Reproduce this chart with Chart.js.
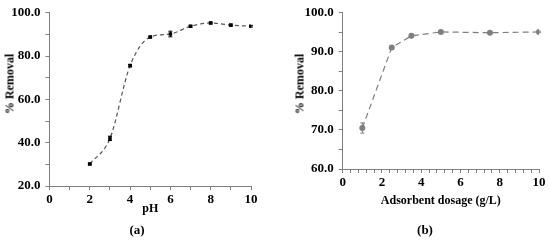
<!DOCTYPE html>
<html><head><meta charset="utf-8">
<script src="https://cdn.jsdelivr.net/npm/chart.js@4"></script>
<style>
html,body{margin:0;padding:0;background:#fff;}
#wrap{position:relative;width:550px;height:240px;overflow:hidden;}
canvas{position:absolute;top:0;}
.lab{position:absolute;font:bold 13px "Liberation Serif",serif;color:#000;transform:translate(-50%,-50%);white-space:nowrap;}
.ytitle{position:absolute;font:bold 12px "Liberation Serif",serif;color:#000;transform:translate(-50%,-50%) rotate(-90deg);white-space:nowrap;}
</style></head>
<body><div id="wrap">
<canvas id="c1" width="268" height="240" style="left:0;width:268px;height:240px"></canvas>
<canvas id="c2" width="275" height="240" style="left:275px;width:275px;height:240px"></canvas>
<div class="ytitle" style="left:10px;top:84px">% Removal</div>
<div class="ytitle" style="left:300px;top:84px">% Removal</div>
<div class="lab" style="left:137px;top:230px">(a)</div>
<div class="lab" style="left:425px;top:230px">(b)</div>
</div>
<script>
// Panel (a): effect of pH
const phValues = [2, 3, 4, 5, 6, 7, 8, 9, 10];
const phRemoval = [30.2, 42.0, 75.6, 88.8, 90.2, 93.8, 95.3, 94.3, 93.8];
const phError = [0.4, 1.0, 0.5, 0.4, 1.3, 0.4, 0.4, 0.4, 0.4];
// Panel (b): effect of adsorbent dosage
const dosageValues = [1, 2.5, 3.5, 5, 7.5, 10];
const dosageRemoval = [70.5, 91.1, 94.1, 95.1, 94.9, 95.1];
const dosageError = [1.3, 0.4, 0.3, 0.2, 0.2, 0.2];
// Axis tick labels
const phYTicks = [20, 40, 60, 80, 100];
const phXTicks = [0, 2, 4, 6, 8, 10];
const dosYTicks = [60, 70, 80, 90, 100];
const dosXTicks = [0, 2, 4, 6, 8, 10];

const FONT = "'Liberation Serif', 'Times New Roman', serif";
const AXIS = '#808080';

const errorBars = {
  id: 'errorBars',
  afterDatasetsDraw(chart) {
    const ctx = chart.ctx;
    const xs = chart.scales.x, ys = chart.scales.y;
    chart.data.datasets.forEach(ds => {
      if (!ds.errors) return;
      ctx.save();
      ctx.strokeStyle = ds.errColor;
      ctx.lineWidth = 1;
      ds.data.forEach((p, i) => {
        const e = ds.errors[i];
        const x = xs.getPixelForValue(p.x);
        const y1 = ys.getPixelForValue(p.y - e), y2 = ys.getPixelForValue(p.y + e);
        ctx.beginPath();
        ctx.moveTo(x, y1); ctx.lineTo(x, y2);
        ctx.moveTo(x - 2, y1); ctx.lineTo(x + 2, y1);
        ctx.moveTo(x - 2, y2); ctx.lineTo(x + 2, y2);
        ctx.stroke();
      });
      ctx.restore();
    });
  }
};

function hasTick(list, v) { return list.some(t => Math.abs(t - v) < 1e-6); }

function makeChart(id, opts) {
  return new Chart(document.getElementById(id), {
    type: 'line',
    data: { datasets: [{
      data: opts.xs.map((x, i) => ({ x: x, y: opts.ys[i] })),
      errors: opts.err,
      errColor: opts.pointColor,
      borderColor: opts.lineColor,
      borderWidth: 1.2,
      borderDash: opts.dash,
      pointStyle: opts.pointStyle,
      pointRadius: opts.pointRadius,
      pointBackgroundColor: opts.pointColor,
      pointBorderColor: opts.pointColor,
      pointBorderWidth: 0,
      fill: false,
      tension: opts.tension,
      cubicInterpolationMode: opts.cubic
    }]},
    options: {
      responsive: false,
      animation: false,
      events: [],
      layout: { padding: opts.padding },
      plugins: { legend: { display: false }, tooltip: { enabled: false } },
      scales: {
        x: {
          type: 'linear', min: 0, max: 10,
          afterFit: s => { s.height = opts.xAxisHeight; },
          border: { display: true, color: AXIS, width: 1 },
          grid: { display: true, drawOnChartArea: false, drawTicks: true, tickLength: 4, color: AXIS },
          ticks: {
            stepSize: opts.xStep, autoSkip: false, maxRotation: 0, padding: 2,
            color: '#000', font: { family: FONT, size: 13, weight: 'bold' },
            callback: v => hasTick(opts.xTicks, v) ? String(Math.round(v)) : ''
          },
          title: { display: true, text: opts.xTitle, color: '#000',
            font: { family: FONT, size: 12, weight: 'bold' }, padding: opts.xTitlePad }
        },
        y: {
          type: 'linear', min: opts.yMin, max: 100,
          afterFit: s => { s.width = opts.yAxisWidth; },
          border: { display: true, color: AXIS, width: 1 },
          grid: { display: true, drawOnChartArea: false, drawTicks: true, tickLength: 4, color: AXIS },
          ticks: {
            stepSize: opts.yStep, autoSkip: false, padding: 5,
            color: '#000', font: { family: FONT, size: 13, weight: 'bold' },
            callback: v => hasTick(opts.yTicks, v) ? v.toFixed(1) : ''
          },
          title: { display: false }
        }
      }
    },
    plugins: [errorBars]
  });
}

makeChart('c1', {
  xs: phValues, ys: phRemoval, err: phError,
  lineColor: '#555555', pointColor: '#000000', dash: [4, 3],
  pointStyle: 'rect', pointRadius: 2.5, tension: 0.4, cubic: 'monotone',
  padding: { top: 11, right: 17, left: 0, bottom: 0 },
  xAxisHeight: 54, yAxisWidth: 49.5, xStep: 1, yStep: 10, yMin: 20,
  xTicks: phXTicks, yTicks: phYTicks, xTitle: 'pH',
  xTitlePad: { top: 0, bottom: 24 }
});

makeChart('c2', {
  xs: dosageValues, ys: dosageRemoval, err: dosageError,
  lineColor: '#7f7f7f', pointColor: '#7f7f7f', dash: [6, 4],
  pointStyle: 'circle', pointRadius: 3, tension: 0, cubic: 'default',
  padding: { top: 7.7, right: 11, left: 0, bottom: 0 },
  xAxisHeight: 71, yAxisWidth: 67.7, xStep: 0.4, yStep: 5, yMin: 60,
  xTicks: dosXTicks, yTicks: dosYTicks, xTitle: 'Adsorbent dosage (g/L)',
  xTitlePad: { top: 0, bottom: 32 }
});
</script>
</body></html>
